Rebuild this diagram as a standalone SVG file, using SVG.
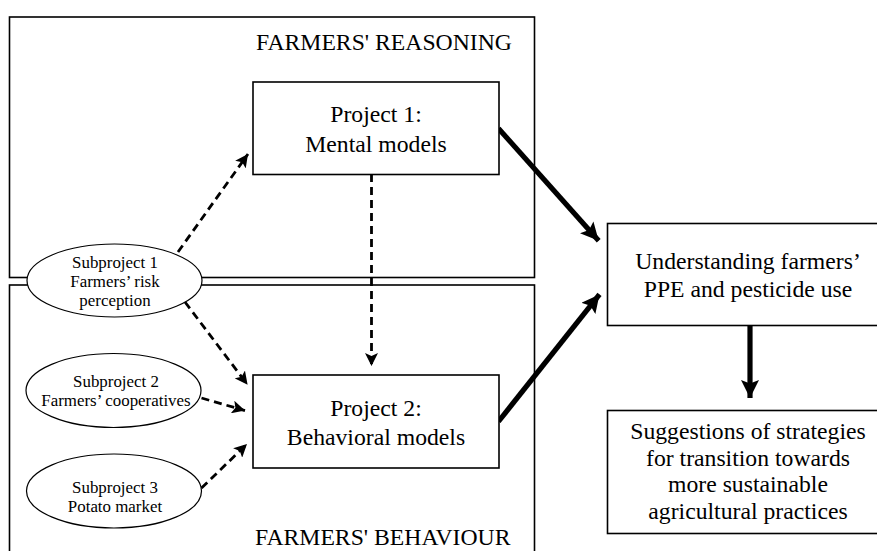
<svg xmlns="http://www.w3.org/2000/svg" width="877" height="551" viewBox="0 0 877 551">
<style>
.box{fill:#fff;stroke:#000;stroke-width:1.6}
.frame{fill:none;stroke:#000;stroke-width:1.6}
.ell{fill:#fff;stroke:#000;stroke-width:1.2}
.big{font-family:"Liberation Serif","Times New Roman",serif;font-size:23.7px;fill:#000}
.small{font-family:"Liberation Serif","Times New Roman",serif;font-size:16.9px;fill:#000;text-anchor:middle}
.mid{text-anchor:middle}
.thick{stroke:#000;stroke-width:5.2;fill:none}
.dash{stroke:#000;stroke-width:2.8;fill:none;stroke-dasharray:8 5}
</style>
<defs>
<marker id="ah" markerUnits="userSpaceOnUse" markerWidth="19" markerHeight="18" refX="18" refY="9" orient="auto">
<path d="M0,0 L18,9 L0,18 L3.5,9 z" fill="#000"/>
</marker>
<marker id="ad" markerUnits="userSpaceOnUse" markerWidth="14" markerHeight="13" refX="13" refY="6.5" orient="auto">
<path d="M0,0 L13,6.5 L0,13 L3,6.5 z" fill="#000"/>
</marker>
</defs>
<rect width="877" height="551" fill="#fff"/>

<g id="reasoning">
<rect class="frame" x="9.5" y="17" width="525" height="260.5"/>
<text class="big" x="256" y="50">FARMERS' REASONING</text>
</g>
<g id="behaviour">
<rect class="frame" x="9.5" y="285" width="525" height="300"/>
<text class="big" x="255" y="545">FARMERS' BEHAVIOUR</text>
</g>

<g id="connectors">
<line class="thick" x1="498.5" y1="128.5" x2="598.7" y2="240.8" marker-end="url(#ah)"/>
<line class="thick" x1="498.5" y1="421.5" x2="599.5" y2="294.4" marker-end="url(#ah)"/>
<line class="thick" x1="750" y1="325.5" x2="750" y2="398" marker-end="url(#ah)"/>
<line class="dash" x1="178" y1="252" x2="248" y2="154" marker-end="url(#ad)"/>
<line class="dash" x1="371.5" y1="174" x2="371.5" y2="366" marker-end="url(#ad)"/>
<line class="dash" x1="185" y1="302" x2="247.6" y2="384.8" marker-end="url(#ad)"/>
<line class="dash" x1="201.5" y1="398" x2="245" y2="410.6" marker-end="url(#ad)"/>
<line class="dash" x1="201.5" y1="488" x2="247" y2="444" marker-end="url(#ad)"/>
</g>

<g id="project1">
<rect class="box" x="253" y="82" width="246" height="92.5"/>
<text class="big mid" x="376" y="122">Project 1:</text>
<text class="big mid" x="376" y="152">Mental models</text>
</g>
<g id="project2">
<rect class="box" x="253" y="375" width="246" height="93"/>
<text class="big mid" x="376" y="416">Project 2:</text>
<text class="big mid" x="376" y="445">Behavioral models</text>
</g>

<g id="subproject1">
<ellipse class="ell" cx="114.5" cy="280.5" rx="87.5" ry="36.5"/>
<text class="small" x="115" y="268">Subproject 1</text>
<text class="small" x="115" y="287">Farmers’ risk</text>
<text class="small" x="115" y="306">perception</text>
</g>
<g id="subproject2">
<ellipse class="ell" cx="113.5" cy="390.5" rx="87.5" ry="37"/>
<text class="small" x="116" y="386.5">Subproject 2</text>
<text class="small" x="116" y="405.5">Farmers’ cooperatives</text>
</g>
<g id="subproject3">
<ellipse class="ell" cx="114" cy="491" rx="87.5" ry="37"/>
<text class="small" x="115" y="492.5">Subproject 3</text>
<text class="small" x="115" y="511.5">Potato market</text>
</g>

<g id="understanding">
<rect class="box" x="607.5" y="223.5" width="300" height="102"/>
<text class="big mid" x="748" y="268.5">Understanding farmers’</text>
<text class="big mid" x="748" y="297">PPE and pesticide use</text>
</g>
<g id="suggestions">
<rect class="box" x="607.5" y="410.5" width="300" height="123"/>
<text class="big mid" x="748" y="439">Suggestions of strategies</text>
<text class="big mid" x="748" y="465.5">for transition towards</text>
<text class="big mid" x="748" y="492">more sustainable</text>
<text class="big mid" x="748" y="518.5">agricultural practices</text>
</g>
</svg>
